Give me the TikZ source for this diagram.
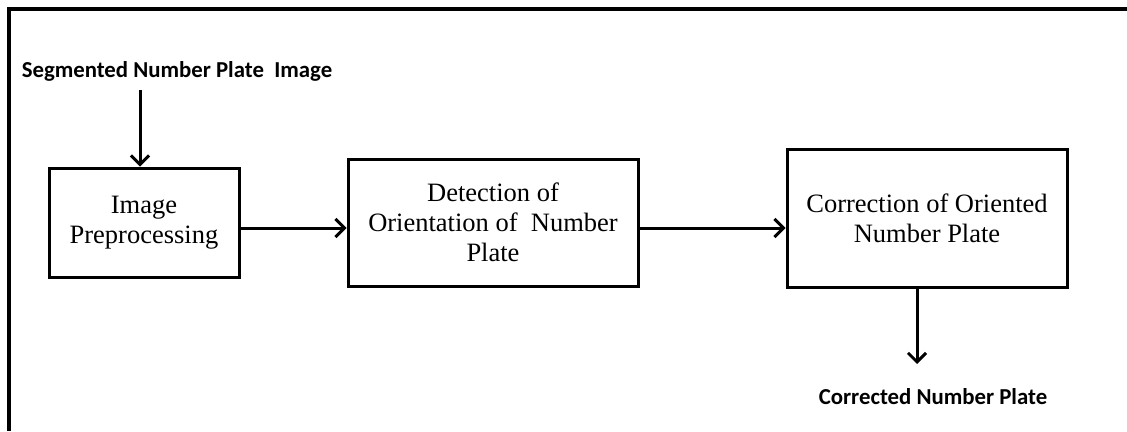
\documentclass[tikz,border=0pt]{standalone}
\usepackage{fontspec}
\setmainfont{Liberation Serif}
\newfontfamily\lblfont{Carlito}
\usetikzlibrary{arrows.meta}
\tikzset{
  blk/.style={draw, line width=3pt, inner sep=0pt, align=center, font=\fontsize{26.5}{30}\selectfont},
  lbl/.style={font=\lblfont\bfseries\fontsize{22.8}{26}\selectfont, inner sep=0pt},
  conn/.style={line width=3pt, -{Straight Barb[length=9pt,width=18pt,line width=3pt]}},
}
\begin{document}
\begin{tikzpicture}[x=1pt,y=-1pt]
\useasboundingbox (0,0) rectangle (1127,431);
\draw[line width=4pt] (9,431) -- (9,9) -- (1127,9);
\node[blk, minimum width=190pt, minimum height=109pt] (b1) at (144,222.5) {Image\\Preprocessing};
\node[blk, minimum width=290pt, minimum height=127pt] (b2) at (493,222.5) {Detection of\\Orientation of~~Number\\Plate};
\node[blk, minimum width=280pt, minimum height=138pt] (b3) at (927,218) {Correction of Oriented\\Number Plate};
\node[lbl] (in) at (177,71) {Segmented Number Plate~~Image};
\node[lbl] (out) at (933,397) {Corrected Number Plate};
\coordinate (ins) at (140,90);
\coordinate (outs) at (917,364);
\draw[conn] (ins) -- (ins |- b1.north);
\draw[conn] (b1.east |- 0,228) -- (b2.west |- 0,228);
\draw[conn] (b2.east |- 0,228) -- (b3.west |- 0,228);
\draw[conn] (b3.south -| outs) -- (outs);
\end{tikzpicture}
\end{document}
